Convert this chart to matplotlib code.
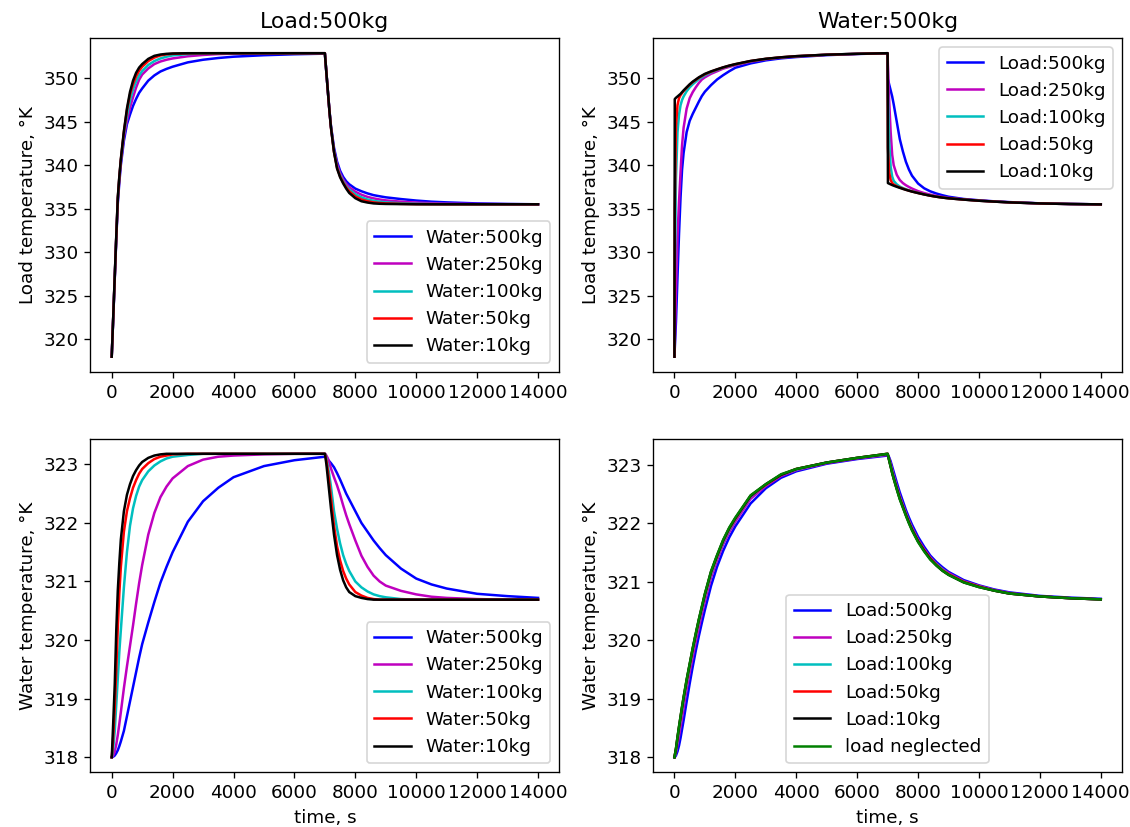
import matplotlib
matplotlib.use('Agg')
import matplotlib.pyplot as plt

matplotlib.rcParams['font.size'] = 11

# time, s  (heating up to 7000 s, then cooling)
t_heat = [0, 10, 50, 100, 150, 200, 250, 300, 400, 500, 600, 700, 800, 900, 1000, 1200, 1400,
          1600, 1800, 2000, 2500, 3000, 3500, 4000, 5000, 6000, 7000]
t_cool = [7010, 7050, 7100, 7150, 7200, 7300, 7400, 7500, 7600, 7700, 7800, 8000, 8200, 8400,
          8600, 8800, 9000, 9500, 10000, 10500, 11000, 12000, 13000, 14000]
t = t_heat + t_cool

# load temperature, load 500kg, varying water mass
load_w500 = [318.0, 318.9, 322.4, 327.0, 331.5, 335.6, 338.0, 340.0, 342.8, 344.7, 345.8, 346.8, 347.6, 348.3,
             348.8, 349.7, 350.3, 350.75, 351.05, 351.3, 351.8, 352.1, 352.3, 352.45, 352.62, 352.73, 352.8] + \
            [352.35, 350.6, 348.4, 346.3, 344.5, 342.0, 340.4, 339.35, 338.65, 338.15, 337.8, 337.3, 337.0, 336.75,
             336.55, 336.42, 336.3, 336.1, 335.93, 335.8, 335.72, 335.6, 335.54, 335.5]
load_w250 = [318.0, 318.9, 322.5, 327.1, 331.7, 335.9, 338.4, 340.4, 343.3, 345.1, 346.6, 347.8, 348.9, 349.8,
             350.4, 351.1, 351.6, 351.9, 352.1, 352.25, 352.5, 352.65, 352.75, 352.8, 352.84, 352.85, 352.85] + \
            [352.4, 350.6, 348.4, 346.2, 344.4, 341.7, 340.1, 339.05, 338.35, 337.85, 337.45, 336.95, 336.6, 336.35,
             336.18, 336.05, 335.95, 335.8, 335.7, 335.63, 335.58, 335.53, 335.51, 335.5]
load_w100 = [318.0, 318.9, 322.5, 327.2, 331.8, 336.1, 338.6, 340.5, 343.6, 345.7, 347.4, 348.7, 349.6, 350.3,
             350.8, 351.5, 351.95, 352.25, 352.45, 352.6, 352.75, 352.82, 352.85, 352.85, 352.85, 352.85, 352.85] + \
            [352.4, 350.6, 348.4, 346.2, 344.4, 341.6, 339.8, 338.85, 338.15, 337.6, 337.2, 336.65, 336.3, 336.05,
             335.9, 335.8, 335.72, 335.62, 335.56, 335.53, 335.52, 335.5, 335.5, 335.5]
load_w50 = [318.0, 318.9, 322.6, 327.2, 331.8, 336.2, 338.6, 340.6, 343.8, 346.3, 348.1, 349.3, 350.2, 350.85,
            351.3, 351.95, 352.35, 352.6, 352.72, 352.78, 352.84, 352.85, 352.85, 352.85, 352.85, 352.85, 352.85] + \
           [352.4, 350.6, 348.4, 346.2, 344.3, 341.5, 339.7, 338.7, 338.0, 337.45, 337.0, 336.4, 336.05, 335.85,
            335.72, 335.65, 335.6, 335.55, 335.52, 335.51, 335.5, 335.5, 335.5, 335.5]
load_w10 = [318.0, 318.9, 322.6, 327.3, 331.9, 336.3, 338.7, 340.7, 343.9, 346.5, 348.4, 349.7, 350.6, 351.2,
            351.6, 352.2, 352.55, 352.7, 352.78, 352.82, 352.85, 352.85, 352.85, 352.85, 352.85, 352.85, 352.85] + \
           [352.4, 350.6, 348.4, 346.2, 344.3, 341.5, 339.6, 338.6, 337.9, 337.3, 336.8, 336.2, 335.85, 335.7,
            335.6, 335.56, 335.54, 335.52, 335.5, 335.5, 335.5, 335.5, 335.5, 335.5]

# load temperature, water 500kg, varying load mass
load_l500 = [318.0, 318.9, 322.0, 327.2, 332.1, 336.3, 339.5, 341.4, 343.8, 345.1, 345.9, 346.6, 347.3, 347.95,
             348.45, 349.2, 349.85, 350.35, 350.8, 351.2, 351.7, 352.05, 352.28, 352.43, 352.65, 352.78, 352.87] + \
            [349.9, 349.3, 348.6, 347.9, 347.0, 345.0, 343.0, 341.6, 340.4, 339.5, 338.8, 337.9, 337.35, 337.0,
             336.75, 336.55, 336.38, 336.12, 335.97, 335.85, 335.76, 335.62, 335.55, 335.5]
load_l250 = [318.0, 319.5, 325.5, 331.8, 335.8, 339.2, 342.3, 344.3, 346.5, 347.7, 348.4, 348.95, 349.45, 349.85,
             350.1, 350.5, 350.8, 351.1, 351.3, 351.5, 351.9, 352.18, 352.37, 352.5, 352.69, 352.8, 352.87] + \
            [351.5, 347.5, 343.8, 341.2, 340.0, 338.9, 338.3, 337.95, 337.7, 337.5, 337.32, 337.02, 336.8, 336.62,
             336.47, 336.35, 336.25, 336.08, 335.94, 335.83, 335.74, 335.61, 335.54, 335.5]
load_l100 = [318.0, 327.0, 338.5, 343.8, 345.8, 346.9, 347.5, 347.9, 348.5, 348.95, 349.3, 349.6, 349.9, 350.12,
             350.33, 350.68, 350.95, 351.2, 351.4, 351.58, 351.95, 352.21, 352.39, 352.52, 352.7, 352.81, 352.87] + \
            [348.0, 342.8, 339.8, 338.7, 338.2, 337.8, 337.55, 337.38, 337.24, 337.12, 337.01, 336.83, 336.66, 336.51,
             336.39, 336.29, 336.2, 336.05, 335.92, 335.82, 335.73, 335.61, 335.54, 335.5]
load_l50 = [318.0, 335.0, 344.5, 346.9, 347.7, 348.05, 348.3, 348.52, 348.9, 349.25, 349.55, 349.8, 350.05, 350.25,
            350.45, 350.75, 351.0, 351.23, 351.43, 351.6, 351.97, 352.22, 352.4, 352.53, 352.7, 352.8, 352.87] + \
           [342.0, 339.2, 338.3, 337.95, 337.78, 337.58, 337.44, 337.31, 337.19, 337.08, 336.98, 336.81, 336.65, 336.5,
            336.38, 336.28, 336.2, 336.05, 335.92, 335.82, 335.73, 335.61, 335.54, 335.5]
load_l10 = [318.0, 347.6, 347.75, 347.9, 348.05, 348.2, 348.4, 348.6, 348.95, 349.3, 349.6, 349.85, 350.1, 350.3,
            350.5, 350.78, 351.02, 351.25, 351.45, 351.62, 351.98, 352.23, 352.4, 352.53, 352.7, 352.8, 352.87] + \
           [337.95, 337.88, 337.8, 337.72, 337.65, 337.52, 337.4, 337.28, 337.17, 337.07, 336.97, 336.8, 336.64, 336.5,
            336.38, 336.28, 336.2, 336.05, 335.92, 335.82, 335.73, 335.61, 335.54, 335.5]

# water temperature, load 500kg, varying water mass
water_w500 = [318.0, 318.0, 318.01, 318.03, 318.07, 318.12, 318.19, 318.27, 318.45, 318.7, 318.95, 319.2, 319.45, 319.7,
              319.93, 320.3, 320.65, 320.98, 321.25, 321.5, 322.02, 322.37, 322.6, 322.78, 322.97, 323.07, 323.13] + \
             [323.13, 323.12, 323.08, 323.05, 323.02, 322.95, 322.85, 322.74, 322.62, 322.5, 322.4, 322.2, 322.0, 321.85,
              321.7, 321.57, 321.45, 321.22, 321.05, 320.95, 320.88, 320.79, 320.75, 320.72]
water_w250 = [318.0, 318.0, 318.03, 318.1, 318.22, 318.38, 318.57, 318.77, 319.18, 319.55, 319.9, 320.25, 320.62, 320.97,
              321.28, 321.8, 322.17, 322.44, 322.62, 322.76, 322.97, 323.08, 323.13, 323.15, 323.17, 323.18, 323.18] + \
             [323.18, 323.15, 323.1, 323.02, 322.93, 322.78, 322.64, 322.48, 322.3, 322.13, 321.98, 321.7, 321.44, 321.25,
              321.1, 321.0, 320.93, 320.84, 320.78, 320.74, 320.72, 320.7, 320.69, 320.69]
water_w100 = [318.0, 318.02, 318.15, 318.45, 318.9, 319.35, 319.8, 320.17, 320.9, 321.5, 321.95, 322.25, 322.46, 322.62,
              322.73, 322.88, 322.98, 323.05, 323.1, 323.13, 323.16, 323.18, 323.18, 323.18, 323.18, 323.18, 323.18] + \
             [323.17, 323.1, 322.97, 322.8, 322.62, 322.2, 321.9, 321.65, 321.45, 321.3, 321.18, 321.0, 320.9, 320.83,
              320.78, 320.75, 320.73, 320.7, 320.69, 320.69, 320.69, 320.69, 320.69, 320.69]
water_w50 = [318.0, 318.05, 318.35, 318.85, 319.5, 320.22, 320.8, 321.25, 321.85, 322.2, 322.42, 322.6, 322.73, 322.84,
             322.92, 323.02, 323.09, 323.13, 323.15, 323.17, 323.18, 323.18, 323.18, 323.18, 323.18, 323.18, 323.18] + \
            [323.16, 323.06, 322.88, 322.66, 322.43, 321.95, 321.6, 321.36, 321.18, 321.05, 320.95, 320.82, 320.76, 320.72,
             320.7, 320.69, 320.69, 320.69, 320.69, 320.69, 320.69, 320.69, 320.69, 320.69]
water_w10 = [318.0, 318.1, 318.6, 319.25, 320.17, 320.85, 321.32, 321.72, 322.2, 322.48, 322.66, 322.8, 322.9, 322.98,
             323.04, 323.11, 323.15, 323.17, 323.18, 323.18, 323.18, 323.18, 323.18, 323.18, 323.18, 323.18, 323.18] + \
            [323.15, 323.0, 322.75, 322.5, 322.25, 321.8, 321.45, 321.2, 321.02, 320.9, 320.82, 320.75, 320.72, 320.7,
             320.69, 320.69, 320.69, 320.69, 320.69, 320.69, 320.69, 320.69, 320.69, 320.69]

# water temperature, water 500kg, varying load mass
water_l500 = [318.0, 318.0, 318.03, 318.1, 318.2, 318.33, 318.48, 318.63, 318.95, 319.26, 319.55, 319.82, 320.07, 320.3,
              320.52, 320.93, 321.26, 321.53, 321.76, 321.95, 322.34, 322.6, 322.78, 322.89, 323.02, 323.1, 323.16] + \
             [323.16, 323.13, 323.06, 322.97, 322.88, 322.7, 322.53, 322.38, 322.23, 322.1, 321.98, 321.77, 321.6, 321.45,
              321.34, 321.25, 321.17, 321.03, 320.94, 320.87, 320.82, 320.76, 320.73, 320.71]
water_l250 = [318.0, 318.01, 318.08, 318.22, 318.37, 318.52, 318.68, 318.84, 319.17, 319.45, 319.72, 319.98, 320.22, 320.45,
              320.67, 321.07, 321.37, 321.64, 321.85, 322.03, 322.42, 322.64, 322.81, 322.91, 323.03, 323.11, 323.17] + \
             [323.17, 323.11, 323.02, 322.92, 322.82, 322.64, 322.47, 322.32, 322.18, 322.05, 321.93, 321.72, 321.56, 321.42,
              321.31, 321.22, 321.15, 321.01, 320.93, 320.86, 320.81, 320.75, 320.72, 320.7]
water_l100 = [318.0, 318.02, 318.12, 318.3, 318.47, 318.64, 318.8, 318.96, 319.27, 319.55, 319.82, 320.07, 320.31, 320.53,
              320.75, 321.13, 321.42, 321.68, 321.89, 322.07, 322.46, 322.66, 322.83, 322.92, 323.04, 323.12, 323.18] + \
             [323.17, 323.09, 322.99, 322.89, 322.79, 322.61, 322.44, 322.3, 322.16, 322.03, 321.91, 321.7, 321.54, 321.4,
              321.3, 321.21, 321.13, 321.0, 320.92, 320.85, 320.8, 320.75, 320.72, 320.7]
water_l50 = [318.0, 318.03, 318.14, 318.33, 318.51, 318.68, 318.85, 319.01, 319.31, 319.58, 319.85, 320.1, 320.34, 320.56,
             320.78, 321.16, 321.44, 321.7, 321.91, 322.08, 322.47, 322.66, 322.83, 322.93, 323.04, 323.12, 323.19] + \
            [323.17, 323.08, 322.98, 322.87, 322.77, 322.6, 322.43, 322.29, 322.15, 322.02, 321.9, 321.7, 321.54, 321.4,
             321.29, 321.2, 321.13, 321.0, 320.92, 320.85, 320.8, 320.75, 320.72, 320.7]
water_l10 = [318.0, 318.03, 318.15, 318.34, 318.52, 318.69, 318.86, 319.02, 319.32, 319.59, 319.86, 320.11, 320.35, 320.57,
             320.79, 321.17, 321.45, 321.71, 321.92, 322.09, 322.47, 322.67, 322.83, 322.93, 323.04, 323.12, 323.19] + \
            [323.17, 323.08, 322.97, 322.86, 322.77, 322.59, 322.42, 322.28, 322.14, 322.01, 321.89, 321.69, 321.53, 321.39,
             321.28, 321.19, 321.12, 320.99, 320.91, 320.85, 320.8, 320.75, 320.72, 320.7]
water_noload = [318.0, 318.03, 318.15, 318.35, 318.53, 318.7, 318.87, 319.03, 319.33, 319.6, 319.87, 320.12, 320.36, 320.58,
                320.8, 321.18, 321.46, 321.72, 321.93, 322.1, 322.48, 322.67, 322.84, 322.93, 323.04, 323.12, 323.19] + \
               [323.17, 323.08, 322.97, 322.86, 322.76, 322.58, 322.41, 322.27, 322.13, 322.0, 321.88, 321.68, 321.52, 321.38,
                321.28, 321.19, 321.12, 320.99, 320.91, 320.85, 320.8, 320.75, 320.72, 320.7]

colors = ['b', 'm', 'c', 'r', 'k']
water_labels = ['Water:500kg', 'Water:250kg', 'Water:100kg', 'Water:50kg', 'Water:10kg']
load_labels = ['Load:500kg', 'Load:250kg', 'Load:100kg', 'Load:50kg', 'Load:10kg']

fig, ax = plt.subplots(2, 2, figsize=(1130 / 120, 827 / 120), dpi=120)
fig.subplots_adjust(left=0.08, right=0.993, bottom=0.066, top=0.954, wspace=0.2, hspace=0.2)

for y, c, l in zip([load_w500, load_w250, load_w100, load_w50, load_w10], colors, water_labels):
    ax[0, 0].plot(t, y, c, label=l)
ax[0, 0].set_title('Load:500kg')
ax[0, 0].set_ylabel('Load temperature, °K')
ax[0, 0].legend(loc='lower right')

for y, c, l in zip([load_l500, load_l250, load_l100, load_l50, load_l10], colors, load_labels):
    ax[0, 1].plot(t, y, c, label=l)
ax[0, 1].set_title('Water:500kg')
ax[0, 1].set_ylabel('Load temperature, °K')
ax[0, 1].legend(loc='upper right')

for y, c, l in zip([water_w500, water_w250, water_w100, water_w50, water_w10], colors, water_labels):
    ax[1, 0].plot(t, y, c, label=l)
ax[1, 0].set_ylabel('Water temperature, °K')
ax[1, 0].set_xlabel('time, s')
ax[1, 0].legend(loc='lower right')

for y, c, l in zip([water_l500, water_l250, water_l100, water_l50, water_l10], colors, load_labels):
    ax[1, 1].plot(t, y, c, label=l)
ax[1, 1].plot(t, water_noload, 'g', label='load neglected')
ax[1, 1].set_ylabel('Water temperature, °K')
ax[1, 1].set_xlabel('time, s')
ax[1, 1].legend(loc='lower center')

plt.savefig('out.png', dpi=120)
